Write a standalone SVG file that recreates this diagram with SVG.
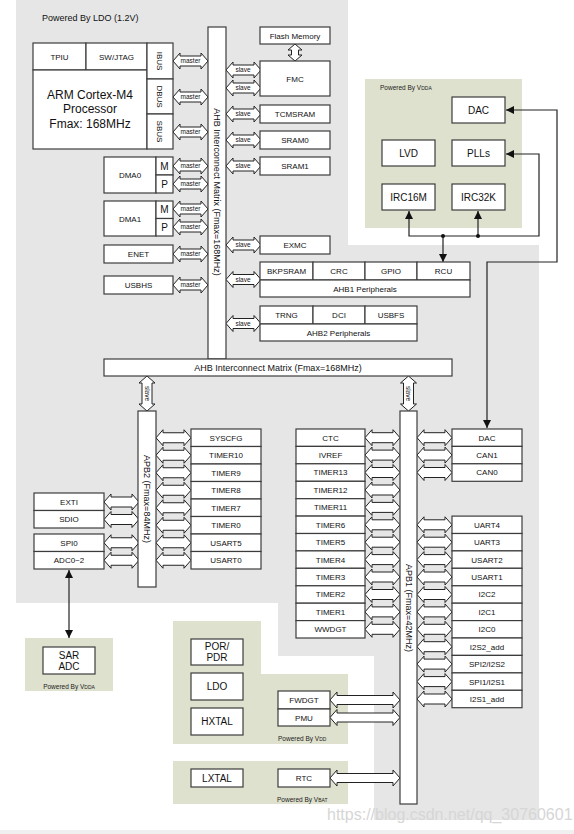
<svg xmlns="http://www.w3.org/2000/svg" width="574" height="834" viewBox="0 0 574 834">
<defs>
<style>
.b{fill:#fff;stroke:#3c3c3c;stroke-width:1.2}
.t{font-family:"Liberation Sans",Arial,sans-serif;font-size:8px;text-anchor:middle;fill:#111}
.t9{font-size:9px}
.t10{font-size:10px}
.t12{font-size:12px}
.a{fill:#fff;stroke:#222;stroke-width:1}
.al{font-family:"Liberation Sans",Arial,sans-serif;font-size:6.5px;text-anchor:middle;fill:#111}
.ln{fill:none;stroke:#222;stroke-width:1.2}
.pw{font-family:"Liberation Sans",Arial,sans-serif;font-size:6.5px;fill:#222}
.gray{fill:#e6e6e6}
.green{fill:#dee1cd}
</style>
<path id="h35" d="M0,0 L7,-8 L7,-5 L28,-5 L28,-8 L35,0 L28,8 L28,5 L7,5 L7,8 Z"/>
<path id="h70" d="M0,0 L7,-8 L7,-4.5 L63,-4.5 L63,-8 L70,0 L63,8 L63,4.5 L7,4.5 L7,8 Z"/>
<path id="v17" d="M0,0 L7,6 L3.5,6 L3.5,11 L7,11 L0,17 L-7,11 L-3.5,11 L-3.5,6 L-7,6 Z"/>
<marker id="ah" viewBox="0 0 8 8" refX="8" refY="4" markerWidth="8" markerHeight="8" markerUnits="userSpaceOnUse" orient="auto-start-reverse">
<path d="M0,0 L8,4 L0,8 Z" fill="#111"/>
</marker>
</defs>

<rect width="574" height="834" fill="#fff"/>

<g id="regions">
<polygon class="gray" points="16,0 348,0 348,245 539,245 539,820 374,820 374,656 278,656 278,603 16,603"/>
<rect class="green" x="365" y="79" width="157" height="149"/>
<polygon class="green" points="173,621 261,621 261,674 348,674 348,744 173,744"/>
<rect class="green" x="173" y="761" width="175" height="43"/>
<rect class="green" x="25" y="638" width="88" height="53"/>
<rect x="0" y="830" width="574" height="4" fill="#f0f0f0"/>
<text class="t t9" x="42" y="21" style="text-anchor:start">Powered By LDO (1.2V)</text>
<text class="pw" x="380" y="90">Powered By V<tspan font-size="5">DDA</tspan></text>
<text class="pw" x="69" y="689" style="text-anchor:middle">Powered By V<tspan font-size="5">DDA</tspan></text>
<text class="pw" x="278" y="741">Powered By V<tspan font-size="5">DD</tspan></text>
<text class="pw" x="277" y="802">Powered By V<tspan font-size="5">BAT</tspan></text>
</g>

<g id="connectors">
<use href="#h35" class="a" x="173" y="61"/>
<use href="#h35" class="a" x="173" y="97"/>
<use href="#h35" class="a" x="173" y="132"/>
<use href="#h35" class="a" x="173" y="166"/>
<use href="#h35" class="a" x="173" y="184"/>
<use href="#h35" class="a" x="173" y="209"/>
<use href="#h35" class="a" x="173" y="227"/>
<use href="#h35" class="a" x="173" y="254"/>
<use href="#h35" class="a" x="173" y="285"/>
<g class="al">
<text x="190.5" y="63.3">master</text>
<text x="190.5" y="99.3">master</text>
<text x="190.5" y="134.3">master</text>
<text x="190.5" y="168.3">master</text>
<text x="190.5" y="186.3">master</text>
<text x="190.5" y="211.3">master</text>
<text x="190.5" y="229.3">master</text>
<text x="190.5" y="256.3">master</text>
<text x="190.5" y="287.3">master</text>
</g>
<use href="#h35" class="a" x="226" y="70"/>
<use href="#h35" class="a" x="226" y="88"/>
<use href="#h35" class="a" x="226" y="114"/>
<use href="#h35" class="a" x="226" y="140"/>
<use href="#h35" class="a" x="226" y="166"/>
<use href="#h35" class="a" x="226" y="245"/>
<use href="#h35" class="a" x="226" y="279.5"/>
<use href="#h35" class="a" x="226" y="323.5"/>
<g class="al">
<text x="243" y="72.3">slave</text>
<text x="243" y="90.3">slave</text>
<text x="243" y="116.3">slave</text>
<text x="243" y="142.3">slave</text>
<text x="243" y="168.3">slave</text>
<text x="243" y="247.3">slave</text>
<text x="243" y="281.8">slave</text>
<text x="243" y="325.8">slave</text>
</g>
<use href="#v17" class="a" x="295" y="44"/>
<use href="#h35" class="a" transform="translate(147,376) rotate(90)"/>
<use href="#h35" class="a" transform="translate(408.5,376) rotate(90)"/>
<text class="al" transform="translate(147,393.5) rotate(90)" y="2.3">slave</text>
<text class="al" transform="translate(408.5,393.5) rotate(90)" y="2.3">slave</text>
<!-- APB2 -->
<use href="#h35" class="a" x="156" y="437.75"/>
<use href="#h35" class="a" x="156" y="455.25"/>
<use href="#h35" class="a" x="156" y="472.75"/>
<use href="#h35" class="a" x="156" y="490.25"/>
<use href="#h35" class="a" x="156" y="507.75"/>
<use href="#h35" class="a" x="156" y="525.25"/>
<use href="#h35" class="a" x="156" y="542.75"/>
<use href="#h35" class="a" x="156" y="560.25"/>
<use href="#h35" class="a" x="104" y="502"/>
<use href="#h35" class="a" x="104" y="519.5"/>
<use href="#h35" class="a" x="104" y="542.75"/>
<use href="#h35" class="a" x="104" y="560.25"/>
<!-- APB1 left -->
<use href="#h35" class="a" x="365" y="437.7"/>
<use href="#h35" class="a" x="365" y="455.1"/>
<use href="#h35" class="a" x="365" y="472.5"/>
<use href="#h35" class="a" x="365" y="490"/>
<use href="#h35" class="a" x="365" y="507.4"/>
<use href="#h35" class="a" x="365" y="524.8"/>
<use href="#h35" class="a" x="365" y="542.2"/>
<use href="#h35" class="a" x="365" y="559.6"/>
<use href="#h35" class="a" x="365" y="577"/>
<use href="#h35" class="a" x="365" y="594.5"/>
<use href="#h35" class="a" x="365" y="611.9"/>
<use href="#h35" class="a" x="365" y="629.3"/>
<!-- APB1 right -->
<use href="#h35" class="a" x="417" y="437.7"/>
<use href="#h35" class="a" x="417" y="455.1"/>
<use href="#h35" class="a" x="417" y="472.5"/>
<use href="#h35" class="a" x="417" y="524.8"/>
<use href="#h35" class="a" x="417" y="542.2"/>
<use href="#h35" class="a" x="417" y="559.6"/>
<use href="#h35" class="a" x="417" y="577"/>
<use href="#h35" class="a" x="417" y="594.5"/>
<use href="#h35" class="a" x="417" y="611.9"/>
<use href="#h35" class="a" x="417" y="629.3"/>
<use href="#h35" class="a" x="417" y="646.7"/>
<use href="#h35" class="a" x="417" y="664.1"/>
<use href="#h35" class="a" x="417" y="681.6"/>
<use href="#h35" class="a" x="417" y="699"/>
<use href="#h70" class="a" x="330" y="700"/>
<use href="#h70" class="a" x="330" y="717.5"/>
<use href="#h70" class="a" x="330" y="778"/>
<!-- clock/analog lines -->
<path class="ln" d="M506,110 L557,110 L557,262 L487,262 L487,428" marker-start="url(#ah)" marker-end="url(#ah)"/>
<path class="ln" d="M506,154 L539,154 L539,236 L409,236 L409,211" marker-start="url(#ah)" marker-end="url(#ah)"/>
<path class="ln" d="M478,236 L478,211" marker-end="url(#ah)"/>
<path class="ln" d="M443,236 L443,262" marker-end="url(#ah)"/>
<circle cx="443" cy="236" r="2" fill="#111"/>
<circle cx="478" cy="236" r="2" fill="#111"/>
<path class="ln" d="M69,570 L69,638" marker-start="url(#ah)" marker-end="url(#ah)"/>
</g>

<g id="cpu">
<rect class="b" x="33" y="43" width="53" height="27"/>
<rect class="b" x="86" y="43" width="61" height="27"/>
<rect class="b" x="33" y="70" width="114" height="79"/>
<text class="t" x="59.5" y="59.5">TPIU</text>
<text class="t" x="116.5" y="59.5">SW/JTAG</text>
<text class="t t12" x="90" y="99">ARM Cortex-M4</text>
<text class="t t12" x="90" y="113">Processor</text>
<text class="t t12" x="90" y="128">Fmax: 168MHz</text>
<rect class="b" x="147" y="43" width="26" height="36"/>
<rect class="b" x="147" y="79" width="26" height="35"/>
<rect class="b" x="147" y="114" width="26" height="35"/>
<text class="t" transform="translate(160,61) rotate(90)" y="3">IBUS</text>
<text class="t" transform="translate(160,96.5) rotate(90)" y="3">DBUS</text>
<text class="t" transform="translate(160,131.5) rotate(90)" y="3">SBUS</text>
</g>
<g id="dma0">
<rect class="b" x="104" y="157" width="52" height="36"/>
<rect class="b" x="156" y="157" width="17" height="18"/>
<rect class="b" x="156" y="175" width="17" height="18"/>
<text class="t" x="130" y="178">DMA0</text>
<text class="t t10" x="164.5" y="169.5">M</text>
<text class="t t10" x="164.5" y="187.5">P</text>
</g>
<g id="dma1">
<rect class="b" x="104" y="201" width="52" height="35"/>
<rect class="b" x="156" y="201" width="17" height="17.5"/>
<rect class="b" x="156" y="218.5" width="17" height="17.5"/>
<text class="t" x="130" y="221.5">DMA1</text>
<text class="t t10" x="164.5" y="213">M</text>
<text class="t t10" x="164.5" y="230.5">P</text>
</g>
<g id="enet"><rect class="b" x="104" y="245" width="69" height="18"/><text class="t" x="138.5" y="257">ENET</text></g>
<g id="usbhs"><rect class="b" x="104" y="276" width="69" height="18"/><text class="t" x="138.5" y="288">USBHS</text></g>

<g id="ahb-matrix">
<rect class="b" x="208" y="27" width="18" height="332"/>
<text class="t t9" transform="translate(217,192) rotate(90)" y="3">AHB Interconnect Matrix (Fmax=168MHz)</text>
<rect class="b" x="104" y="359" width="348" height="17"/>
<text class="t t9" x="278" y="371">AHB Interconnect Matrix (Fmax=168MHz)</text>
</g>

<g id="flash"><rect class="b" x="260" y="27" width="70" height="17"/><text class="t" x="295" y="38.5">Flash Memory</text></g>
<g id="fmc"><rect class="b" x="260" y="61" width="70" height="35"/><text class="t" x="295" y="81.5">FMC</text></g>
<g id="tcmsram"><rect class="b" x="260" y="105" width="70" height="18"/><text class="t" x="295" y="117">TCMSRAM</text></g>
<g id="sram0"><rect class="b" x="260" y="131" width="70" height="18"/><text class="t" x="295" y="143">SRAM0</text></g>
<g id="sram1"><rect class="b" x="260" y="157" width="70" height="18"/><text class="t" x="295" y="169">SRAM1</text></g>
<g id="exmc"><rect class="b" x="260" y="236" width="70" height="18"/><text class="t" x="295" y="248">EXMC</text></g>
<g id="ahb1">
<rect class="b" x="260" y="262" width="53" height="18"/>
<rect class="b" x="313" y="262" width="52" height="18"/>
<rect class="b" x="365" y="262" width="52" height="18"/>
<rect class="b" x="417" y="262" width="53" height="18"/>
<rect class="b" x="260" y="280" width="210" height="17"/>
<text class="t" x="286.5" y="274">BKPSRAM</text>
<text class="t" x="339" y="274">CRC</text>
<text class="t" x="391" y="274">GPIO</text>
<text class="t" x="443.5" y="274">RCU</text>
<text class="t" x="365" y="291.5">AHB1 Peripherals</text>
</g>
<g id="ahb2">
<rect class="b" x="260" y="306" width="53" height="18"/>
<rect class="b" x="313" y="306" width="52" height="18"/>
<rect class="b" x="365" y="306" width="52" height="18"/>
<rect class="b" x="260" y="324" width="157" height="17"/>
<text class="t" x="286.5" y="318">TRNG</text>
<text class="t" x="339" y="318">DCI</text>
<text class="t" x="391" y="318">USBFS</text>
<text class="t" x="338.5" y="335.5">AHB2 Peripherals</text>
</g>

<g id="vdda-domain">
<rect class="b" x="452" y="97" width="53" height="26"/><text class="t t10" x="478.5" y="113.5">DAC</text>
<rect class="b" x="382" y="140" width="53" height="26"/><text class="t t10" x="408.5" y="156.5">LVD</text>
<rect class="b" x="452" y="140" width="53" height="26"/><text class="t t10" x="478.5" y="156.5">PLLs</text>
<rect class="b" x="382" y="184" width="53" height="26"/><text class="t t10" x="408.5" y="200.5">IRC16M</text>
<rect class="b" x="452" y="184" width="53" height="26"/><text class="t t10" x="478.5" y="200.5">IRC32K</text>
</g>

<g id="apb2">
<rect class="b" x="138" y="411" width="18" height="176"/>
<text class="t t9" transform="translate(147,499) rotate(90)" y="3">APB2  (Fmax=84MHz)</text>
</g>
<g id="apb2-right">
<rect class="b" x="191" y="429" width="70" height="17.5"/><text class="t" x="226" y="440.7">SYSCFG</text>
<rect class="b" x="191" y="446.5" width="70" height="17.5"/><text class="t" x="226" y="458.2">TIMER10</text>
<rect class="b" x="191" y="464" width="70" height="17.5"/><text class="t" x="226" y="475.7">TIMER9</text>
<rect class="b" x="191" y="481.5" width="70" height="17.5"/><text class="t" x="226" y="493.2">TIMER8</text>
<rect class="b" x="191" y="499" width="70" height="17.5"/><text class="t" x="226" y="510.7">TIMER7</text>
<rect class="b" x="191" y="516.5" width="70" height="17.5"/><text class="t" x="226" y="528.2">TIMER0</text>
<rect class="b" x="191" y="534" width="70" height="17.5"/><text class="t" x="226" y="545.7">USART5</text>
<rect class="b" x="191" y="551.5" width="70" height="17.5"/><text class="t" x="226" y="563.2">USART0</text>
</g>
<g id="apb2-left">
<rect class="b" x="34" y="493" width="70" height="17.5"/><text class="t" x="69" y="504.9">EXTI</text>
<rect class="b" x="34" y="510.5" width="70" height="17.5"/><text class="t" x="69" y="522.4">SDIO</text>
<rect class="b" x="34" y="534" width="70" height="17.5"/><text class="t" x="69" y="545.7">SPI0</text>
<rect class="b" x="34" y="551.5" width="70" height="17.5"/><text class="t" x="69" y="563.2">ADC0~2</text>
</g>
<g id="sar-adc">
<rect class="b" x="43" y="647" width="52" height="27"/>
<text class="t t10" x="69" y="659">SAR</text>
<text class="t t10" x="69" y="670">ADC</text>
</g>

<g id="apb1">
<rect class="b" x="400" y="411" width="17" height="393"/>
<text class="t t9" transform="translate(408.5,608) rotate(90)" y="3">APB1  (Fmax=42MHz)</text>
</g>
<g id="apb1-left">
<rect class="b" x="296" y="429" width="69" height="17.4"/><text class="t" x="330.5" y="440.6">CTC</text>
<rect class="b" x="296" y="446.4" width="69" height="17.4"/><text class="t" x="330.5" y="458">IVREF</text>
<rect class="b" x="296" y="463.8" width="69" height="17.5"/><text class="t" x="330.5" y="475.4">TIMER13</text>
<rect class="b" x="296" y="481.3" width="69" height="17.4"/><text class="t" x="330.5" y="492.9">TIMER12</text>
<rect class="b" x="296" y="498.7" width="69" height="17.4"/><text class="t" x="330.5" y="510.3">TIMER11</text>
<rect class="b" x="296" y="516.1" width="69" height="17.4"/><text class="t" x="330.5" y="527.7">TIMER6</text>
<rect class="b" x="296" y="533.5" width="69" height="17.4"/><text class="t" x="330.5" y="545.1">TIMER5</text>
<rect class="b" x="296" y="550.9" width="69" height="17.4"/><text class="t" x="330.5" y="562.5">TIMER4</text>
<rect class="b" x="296" y="568.3" width="69" height="17.5"/><text class="t" x="330.5" y="579.9">TIMER3</text>
<rect class="b" x="296" y="585.8" width="69" height="17.4"/><text class="t" x="330.5" y="597.4">TIMER2</text>
<rect class="b" x="296" y="603.2" width="69" height="17.4"/><text class="t" x="330.5" y="614.8">TIMER1</text>
<rect class="b" x="296" y="620.6" width="69" height="17.4"/><text class="t" x="330.5" y="632.2">WWDGT</text>
</g>
<g id="apb1-right-a">
<rect class="b" x="452" y="429" width="70" height="17.4"/><text class="t" x="487" y="440.6">DAC</text>
<rect class="b" x="452" y="446.4" width="70" height="17.4"/><text class="t" x="487" y="458">CAN1</text>
<rect class="b" x="452" y="463.8" width="70" height="17.5"/><text class="t" x="487" y="475.4">CAN0</text>
</g>
<g id="apb1-right-b">
<rect class="b" x="452" y="516.1" width="70" height="17.4"/><text class="t" x="487" y="527.7">UART4</text>
<rect class="b" x="452" y="533.5" width="70" height="17.4"/><text class="t" x="487" y="545.1">UART3</text>
<rect class="b" x="452" y="550.9" width="70" height="17.4"/><text class="t" x="487" y="562.5">USART2</text>
<rect class="b" x="452" y="568.3" width="70" height="17.5"/><text class="t" x="487" y="579.9">USART1</text>
<rect class="b" x="452" y="585.8" width="70" height="17.4"/><text class="t" x="487" y="597.4">I2C2</text>
<rect class="b" x="452" y="603.2" width="70" height="17.4"/><text class="t" x="487" y="614.8">I2C1</text>
<rect class="b" x="452" y="620.6" width="70" height="17.4"/><text class="t" x="487" y="632.2">I2C0</text>
<rect class="b" x="452" y="638" width="70" height="17.4"/><text class="t" x="487" y="649.6">I2S2_add</text>
<rect class="b" x="452" y="655.4" width="70" height="17.5"/><text class="t" x="487" y="667">SPI2/I2S2</text>
<rect class="b" x="452" y="672.9" width="70" height="17.4"/><text class="t" x="487" y="684.5">SPI1/I2S1</text>
<rect class="b" x="452" y="690.3" width="70" height="17.4"/><text class="t" x="487" y="701.9">I2S1_add</text>
</g>

<g id="vdd-domain">
<rect class="b" x="191" y="639" width="52" height="26"/>
<text class="t t10" x="217" y="650">POR/</text>
<text class="t t10" x="217" y="661">PDR</text>
<rect class="b" x="191" y="673" width="52" height="27"/><text class="t t10" x="217" y="690">LDO</text>
<rect class="b" x="191" y="708" width="52" height="27"/><text class="t t10" x="217" y="725">HXTAL</text>
<rect class="b" x="278" y="691" width="52" height="18"/><text class="t" x="304" y="703">FWDGT</text>
<rect class="b" x="278" y="709" width="52" height="17"/><text class="t" x="304" y="720.5">PMU</text>
</g>
<g id="vbat-domain">
<rect class="b" x="191" y="769" width="52" height="18"/><text class="t t10" x="217" y="781.5">LXTAL</text>
<rect class="b" x="278" y="769" width="52" height="18"/><text class="t" x="304" y="781">RTC</text>
</g>

<text x="327" y="820" font-family="'Liberation Sans',Arial,sans-serif" font-size="16" fill="#d6d6d6">https://blog.csdn.net/qq_30760601</text>
</svg>
